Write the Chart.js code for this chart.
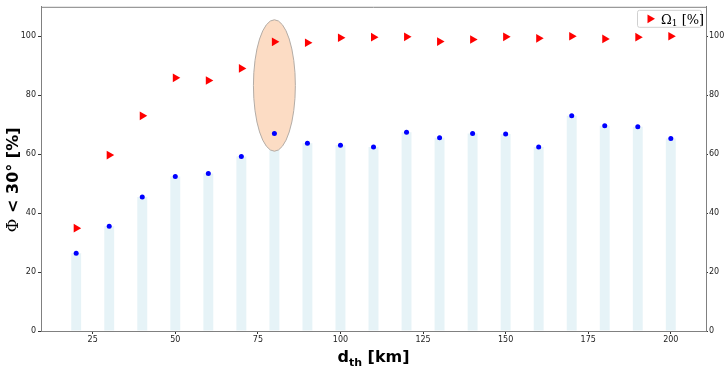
<!DOCTYPE html>
<html>
<head>
<meta charset="utf-8">
<script src="https://cdn.jsdelivr.net/npm/chart.js@4.4.1/dist/chart.umd.min.js"></script>
<style>
  html, body { margin: 0; padding: 0; background: #fff; }
  #wrap { width: 726px; height: 369px; }
</style>
</head>
<body>
<div id="wrap"><canvas id="chart"></canvas></div>
<script>
// threshold distance d_th [km]
const dth = [20, 30, 40, 50, 60, 70, 80, 90, 100, 110, 120, 130, 140, 150, 160, 170, 180, 190, 200];
// share with Phi < 30 deg [%] (bars + blue dots)
const phiBelow30 = [26.4, 35.5, 45.5, 52.4, 53.4, 59.2, 67.0, 63.7, 63.0, 62.4, 67.4, 65.6, 67.0, 66.8, 62.4, 73.0, 69.6, 69.3, 65.3];
// Omega_1 [%] (red triangles)
const omega1 = [34.9, 59.7, 73.0, 85.9, 85.0, 89.1, 98.1, 97.8, 99.5, 99.7, 99.8, 98.2, 98.9, 99.8, 99.3, 100.0, 99.1, 99.7, 100.0];

const xTicks = [25, 50, 75, 100, 125, 150, 175, 200];
const yTicks = [0, 20, 40, 60, 80, 100];

// highlighted ellipse around d_th = 80 (data units)
const ellipseCenter = [80, 83.3];
const ellipseSize = [12.7, 44.6];

const tickFont = { family: "'DejaVu Sans'", size: 8 };
const spine = '#808080';

// draws a row of text pieces (font, y shift) starting at x
function drawParts(ctx, parts, x, y) {
  let total = 0;
  parts.forEach(p => { ctx.font = p.f; p.w = ctx.measureText(p.t).width; total += p.w; });
  let px = x - total / 2;
  parts.forEach(p => {
    ctx.font = p.f;
    ctx.fillText(p.t, px, y + p.dy);
    px += p.w;
  });
}

const extras = {
  id: 'extras',
  afterDatasetDraw(chart, args) {
    if (args.index !== 0) return;
    const { ctx, scales: { x, y } } = chart;
    const cx = x.getPixelForValue(ellipseCenter[0]);
    const cy = y.getPixelForValue(ellipseCenter[1]);
    const rx = Math.abs(x.getPixelForValue(ellipseCenter[0] + ellipseSize[0] / 2) - cx);
    const ry = Math.abs(y.getPixelForValue(ellipseCenter[1] + ellipseSize[1] / 2) - cy);
    ctx.save();
    ctx.beginPath();
    ctx.ellipse(cx, cy, rx, ry, 0, 0, Math.PI * 2);
    ctx.fillStyle = '#fcdcc4';
    ctx.fill();
    ctx.strokeStyle = '#b3aca6';
    ctx.lineWidth = 1;
    ctx.stroke();
    ctx.restore();
  },
  afterDraw(chart) {
    const { ctx, chartArea: a } = chart;
    ctx.save();
    // top spine
    ctx.strokeStyle = spine;
    ctx.lineWidth = 1;
    ctx.beginPath();
    ctx.moveTo(a.left, a.top + 0.5);
    ctx.lineTo(a.right, a.top + 0.5);
    ctx.stroke();

    // legend
    const bx = a.right - 69, by = a.top + 3, bw = 64, bh = 17;
    ctx.fillStyle = 'rgba(255,255,255,0.85)';
    ctx.strokeStyle = '#d0d0d0';
    ctx.beginPath();
    ctx.roundRect(bx + 0.5, by + 0.5, bw, bh, 2);
    ctx.fill();
    ctx.stroke();
    Chart.helpers.drawPoint(ctx, { pointStyle: 'triangle', radius: 5, rotation: 90, borderWidth: 0 }, bx + 13, by + 9);
    ctx.fillStyle = 'red';
    ctx.fill();
    ctx.fillStyle = '#000';
    ctx.textBaseline = 'alphabetic';
    ctx.font = "13px 'DejaVu Serif'";
    let tx = bx + 24;
    ctx.fillText('Ω', tx, by + 14);
    tx += ctx.measureText('Ω').width;
    ctx.font = "9px 'DejaVu Serif'";
    ctx.fillText('1', tx, by + 16);
    tx += ctx.measureText('1').width;
    ctx.font = "13px 'DejaVu Serif'";
    ctx.fillText(' [%]', tx, by + 14);

    // x axis title with subscript
    drawParts(ctx, [
      { t: 'd', f: "bold 16px 'DejaVu Sans'", dy: 0 },
      { t: 'th', f: "bold 11px 'DejaVu Sans'", dy: 4 },
      { t: ' [km]', f: "bold 16px 'DejaVu Sans'", dy: 0 }
    ], (a.left + a.right) / 2, 362);

    // y axis title, rotated
    ctx.translate(18, 180);
    ctx.rotate(-Math.PI / 2);
    drawParts(ctx, [
      { t: 'Φ', f: "17px 'DejaVu Serif'", dy: 0 },
      { t: ' < 30° [%]', f: "bold 16px 'DejaVu Sans'", dy: 0 }
    ], 0, 0);
    ctx.restore();
  }
};

new Chart(document.getElementById('chart'), {
  data: {
    datasets: [
      {
        type: 'bar',
        data: dth.map((d, i) => ({ x: d, y: phiBelow30[i] })),
        backgroundColor: 'rgba(173,216,230,0.3)',
        borderWidth: 0,
        barPercentage: 0.3,
        categoryPercentage: 1.0,
        order: 3
      },
      {
        type: 'scatter',
        data: dth.map((d, i) => ({ x: d, y: phiBelow30[i] })),
        backgroundColor: 'blue',
        borderWidth: 0,
        pointRadius: 2.5,
        order: 1
      },
      {
        type: 'scatter',
        label: 'Ω1 [%]',
        data: dth.map((d, i) => ({ x: d, y: omega1[i] })),
        backgroundColor: 'red',
        borderWidth: 0,
        pointStyle: 'triangle',
        pointRotation: 90,
        pointRadius: 5,
        order: 2
      }
    ]
  },
  options: {
    responsive: true,
    maintainAspectRatio: false,
    animation: false,
    events: [],
    layout: { padding: { top: 3, left: 0, right: 0, bottom: 0 } },
    plugins: { legend: { display: false }, tooltip: { enabled: false } },
    scales: {
      x: {
        type: 'linear',
        offset: false,
        min: 9.35,
        max: 210.65,
        afterBuildTicks: s => { s.ticks = xTicks.map(v => ({ value: v })); },
        afterFit: s => { s.height = 38; },
        grid: { offset: false, drawOnChartArea: false, tickLength: 3, tickColor: '#333' },
        border: { color: spine },
        ticks: { font: tickFont, color: '#222', padding: 1, maxRotation: 0 }
      },
      y: {
        position: 'left',
        min: 0,
        max: 110,
        afterBuildTicks: s => { s.ticks = yTicks.map(v => ({ value: v })); },
        afterFit: s => { s.width = 41; },
        grid: { drawOnChartArea: false, tickLength: 3, tickColor: '#333' },
        border: { color: spine },
        ticks: { font: tickFont, color: '#222', padding: 2 }
      },
      y2: {
        position: 'right',
        min: 0,
        max: 110,
        afterBuildTicks: s => { s.ticks = yTicks.map(v => ({ value: v })); },
        afterFit: s => { s.width = 20; },
        grid: { drawOnChartArea: false, tickLength: 2, tickColor: '#333' },
        border: { color: spine },
        ticks: { font: tickFont, color: '#222', padding: 1 }
      }
    }
  },
  plugins: [extras]
});
</script>
</body>
</html>
